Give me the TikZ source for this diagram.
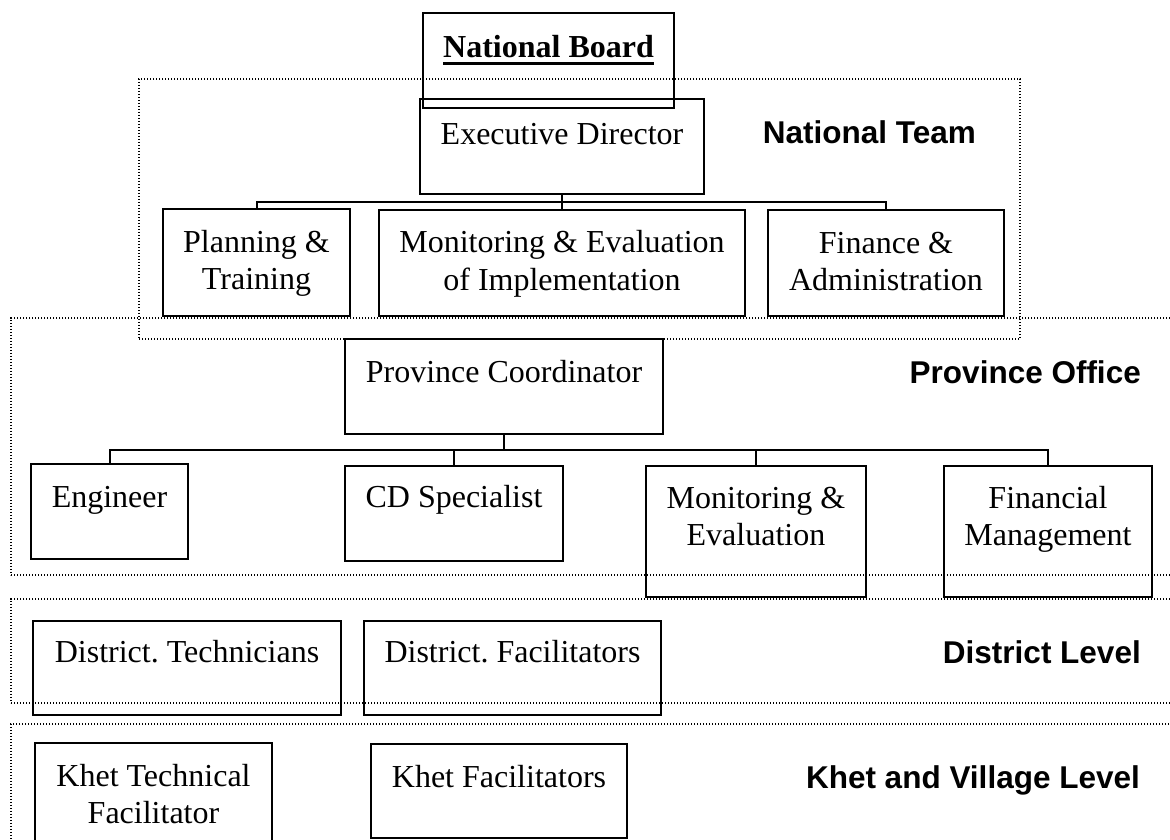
\documentclass[tikz,border=0pt]{standalone}
\usepackage{fontspec}
\setmainfont{Liberation Serif}
\newfontfamily\levelfont{Liberation Sans}
% fixed-height strut so every box text starts at the same baseline depth
\newcommand\firststrut{\rule{0pt}{28pt}}
% thick underline for the board title
\newcommand\thickul[1]{\setbox0\hbox{#1}\rlap{\rule[-7pt]{\wd0}{2.8pt}}\box0}
\begin{document}
\frenchspacing
\begin{tikzpicture}[x=1pt,y=-1pt,
  unitbox/.style={draw, line width=2.3pt, inner sep=0pt, outer sep=0pt, anchor=north west},
  boxtext/.style={anchor=north, inner sep=0pt, align=center,
    font=\fontsize{32}{37.5}\selectfont\frenchspacing},
  zone/.style={draw, line width=1.2pt, dash pattern=on 1.2pt off 1.8pt, inner sep=0pt, outer sep=0pt, anchor=north west},
  levellabel/.style={anchor=base east, inner sep=0pt, font=\levelfont\bfseries\fontsize{31.5}{36}\selectfont},
  link/.style={line width=2pt}]
\useasboundingbox (0,0) rectangle (1170,840);
\clip (0,0) rectangle (1170,840);

% level zones (dotted frames)
\node[zone, minimum width=881pt, minimum height=260pt] (natzone) at (139,79) {};
\node[zone, minimum width=1180pt, minimum height=257pt] (provzone) at (11,318) {};
\node[zone, minimum width=1180pt, minimum height=104pt] (distzone) at (11,599) {};
\node[zone, minimum width=1180pt, minimum height=130pt] (khetzone) at (11,724) {};

% national level
\node[unitbox, minimum width=251pt, minimum height=95pt] (nb) at (423,13) {};
\node[boxtext, yshift=-16.5pt] (nbt) at (nb.north) {\firststrut\textbf{\thickul{National Board}}};
\node[unitbox, minimum width=284pt, minimum height=95pt] (ed) at (420,99) {};
\node[boxtext, yshift=-17pt] (edt) at (ed.north) {\firststrut Executive Director};
\node[unitbox, minimum width=187pt, minimum height=107pt] (pt) at (163,209) {};
\node[boxtext, yshift=-15pt] (ptt) at (pt.north) {\firststrut Planning \&\\Training};
\node[unitbox, minimum width=366pt, minimum height=106pt] (mei) at (379,210) {};
\node[boxtext, yshift=-14.5pt] (meit) at (mei.north) {\firststrut Monitoring \& Evaluation\\of Implementation};
\node[unitbox, minimum width=236pt, minimum height=106pt] (fa) at (768,210) {};
\node[boxtext, yshift=-15pt] (fat) at (fa.north) {\firststrut Finance \&\\Administration};

% province level
\node[unitbox, minimum width=318pt, minimum height=95pt] (pc) at (345,339) {};
\node[boxtext, yshift=-15.5pt] (pct) at (pc.north) {\firststrut Province Coordinator};
\node[unitbox, minimum width=157pt, minimum height=95pt] (en) at (31,464) {};
\node[boxtext, yshift=-15pt] (ent) at (en.north) {\firststrut Engineer};
\node[unitbox, minimum width=218pt, minimum height=95pt] (cd) at (345,466) {};
\node[boxtext, yshift=-13.5pt] (cdt) at (cd.north) {\firststrut CD Specialist};
\node[unitbox, minimum width=220pt, minimum height=131pt] (mep) at (646,466) {};
\node[boxtext, yshift=-14pt] (mept) at (mep.north) {\firststrut Monitoring \&\\Evaluation};
\node[unitbox, minimum width=208pt, minimum height=131pt] (fm) at (944,466) {};
\node[boxtext, yshift=-14pt] (fmt) at (fm.north) {\firststrut Financial\\Management};

% district level
\node[unitbox, minimum width=308pt, minimum height=94pt] (dt) at (33,621) {};
\node[boxtext, yshift=-13.5pt] (dtt) at (dt.north) {\firststrut District. Technicians};
\node[unitbox, minimum width=297pt, minimum height=94pt] (df) at (364,621) {};
\node[boxtext, yshift=-13.5pt] (dft) at (df.north) {\firststrut District. Facilitators};

% khet and village level
\node[unitbox, minimum width=237pt, minimum height=110pt] (ktf) at (35,743) {};
\node[boxtext, yshift=-15pt] (ktft) at (ktf.north) {\firststrut Khet Technical\\Facilitator};
\node[unitbox, minimum width=256pt, minimum height=94pt] (kf) at (371,744) {};
\node[boxtext, yshift=-15pt] (kft) at (kf.north) {\firststrut Khet Facilitators};

% level names
\node[levellabel] (lnat) at (976,144) {National Team};
\node[levellabel] (lprov) at (1141,383) {Province Office};
\node[levellabel] (ldist) at (1141,663) {District Level};
\node[levellabel] (lkhet) at (1140,788) {Khet and Village Level};

% reporting lines
\coordinate (nbar) at (562,202);
\draw[link] (ed.south) -- (mei.north);
\draw[link] (pt.north) |- (nbar) -| (fa.north);
\coordinate (pbar) at (504,450);
\draw[link] (pc.south) -- (pbar);
\draw[link] (en.north) |- (pbar) -| (fm.north);
\draw[link] (cd.north) -- (cd.north |- pbar);
\draw[link] (mep.north) -- (mep.north |- pbar);
\end{tikzpicture}
\end{document}
